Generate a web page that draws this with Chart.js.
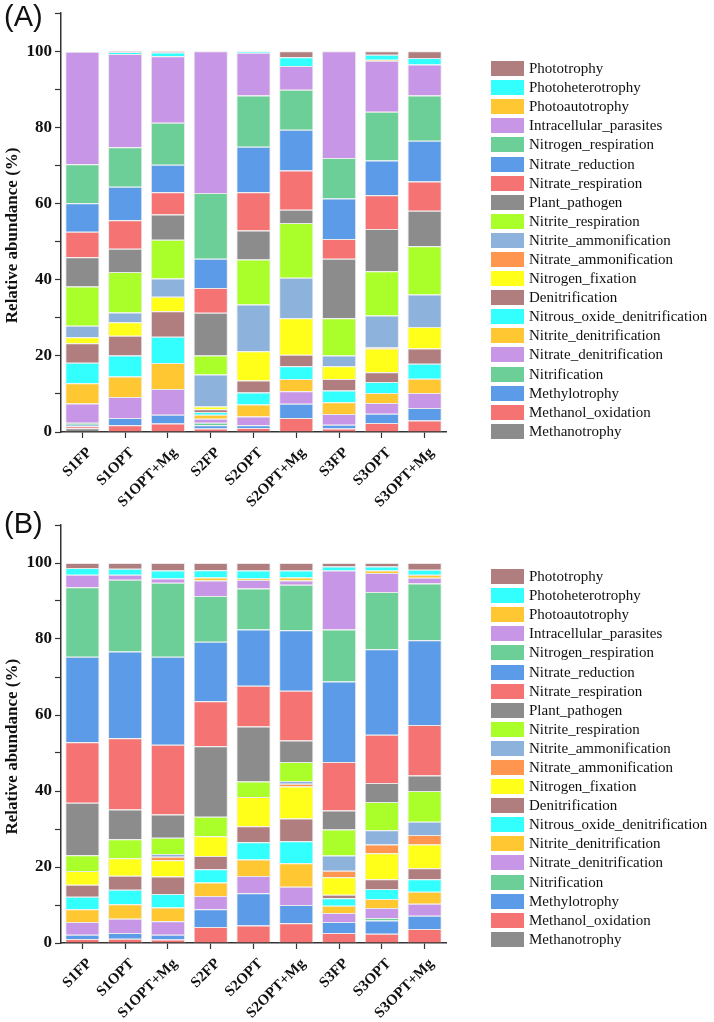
<!DOCTYPE html>
<html>
<head>
<meta charset="utf-8">
<script src="https://cdn.jsdelivr.net/npm/chart.js@4.4.1/dist/chart.umd.min.js"></script>
<style>
  html, body { margin: 0; padding: 0; background: #fff; }
  #page { position: relative; width: 714px; height: 1022px; overflow: hidden; }
  .panel { position: absolute; left: 0; width: 714px; height: 511px; }
  .panel canvas { position: absolute; left: 0; top: 0; }
  .tag { position: absolute; left: 4px; font-family: "Liberation Sans", Arial, sans-serif; font-size: 29px; color: #111; }
  .legend { position: absolute; left: 491px; font-family: "Liberation Serif", "Times New Roman", serif; font-size: 15px; color: #111; }
  .legend .row { height: 19.1px; display: flex; align-items: center; white-space: nowrap; }
  .legend .box { display: inline-block; width: 33px; height: 15px; margin-right: 5px; }
</style>
</head>
<body>
<div id="page">
  <div class="panel" style="top:0">
    <canvas id="chartA" width="714" height="511"></canvas>
    <div class="tag" style="top:0px">(A)</div>
    <div class="legend" id="legendA" style="top:59px"></div>
  </div>
  <div class="panel" style="top:511px">
    <canvas id="chartB" width="714" height="511"></canvas>
    <div class="tag" style="top:-4px">(B)</div>
    <div class="legend" id="legendB" style="top:56px"></div>
  </div>
</div>
<script>
// samples on the x axis
const samples = ["S1FP", "S1OPT", "S1OPT+Mg", "S2FP", "S2OPT", "S2OPT+Mg", "S3FP", "S3OPT", "S3OPT+Mg"];

// functional groups, stacked from the bottom up
const functions = [
  "Methanotrophy", "Methanol_oxidation", "Methylotrophy", "Nitrification",
  "Nitrate_denitrification", "Nitrite_denitrification", "Nitrous_oxide_denitrification",
  "Denitrification", "Nitrogen_fixation", "Nitrate_ammonification", "Nitrite_ammonification",
  "Nitrite_respiration", "Plant_pathogen", "Nitrate_respiration", "Nitrate_reduction",
  "Nitrogen_respiration", "Intracellular_parasites", "Photoautotrophy", "Photoheterotrophy", "Phototrophy"
];

const colors = [
  "#8c8c8c", "#f57373", "#5b9be8", "#6dcf98",
  "#c796e6", "#ffc833", "#33ffff",
  "#b07e7e", "#ffff1a", "#ff9650", "#8db3dc",
  "#aaff2b", "#8c8c8c", "#f57373", "#5b9be8",
  "#6dcf98", "#c796e6", "#ffc833", "#33ffff", "#b07e7e"
];

// relative abundance (%), one row per sample, same order as functions
const panelA = [
  [1.0, 0.5, 0.4, 0.5, 5.1, 5.3, 5.4, 5.1, 1.6, 0, 3.0, 10.3, 7.7, 6.7, 7.5, 10.2, 29.6, 0, 0, 0],
  [0, 1.75, 1.95, 0, 5.5, 5.4, 5.5, 5.2, 3.5, 0, 2.6, 10.6, 6.1, 7.5, 8.8, 10.4, 24.5, 0, 0.5, 0.2],
  [0, 2.2, 2.35, 0, 6.75, 6.8, 6.9, 6.7, 3.8, 0, 4.8, 10.2, 6.6, 5.9, 7.2, 11.0, 17.5, 0, 1.0, 0.3],
  [0, 0.9, 0.85, 0.7, 1.05, 1.05, 0.7, 0.75, 0.7, 0, 8.4, 5.0, 11.2, 6.5, 7.7, 17.3, 37.2, 0, 0, 0],
  [0, 1.05, 0.7, 0, 2.35, 3.1, 3.2, 3.1, 7.7, 0, 12.3, 11.8, 7.6, 10.1, 11.9, 13.5, 11.2, 0, 0.4, 0],
  [0, 3.7, 3.7, 0, 3.3, 3.2, 3.35, 3.05, 9.6, 0, 10.6, 14.4, 3.5, 10.3, 10.7, 10.5, 6.2, 0, 2.3, 1.6],
  [0, 0.9, 1.0, 0, 2.8, 3.1, 3.1, 3.0, 3.35, 0, 2.85, 9.8, 15.6, 5.2, 10.6, 10.7, 28.0, 0, 0, 0],
  [0, 2.35, 2.45, 0, 2.8, 2.65, 2.85, 2.6, 6.2, 0.3, 8.4, 11.6, 11.1, 8.9, 9.1, 12.8, 13.4, 0.3, 1.3, 0.9],
  [0, 3.0, 3.3, 0, 3.95, 3.75, 3.95, 3.95, 5.7, 0, 8.5, 12.7, 9.3, 7.7, 10.7, 11.9, 8.1, 0, 1.75, 1.75]
];

const panelB = [
  [0, 1.05, 1.15, 0, 3.3, 3.4, 3.3, 3.1, 3.65, 0, 0, 4.15, 13.8, 15.9, 22.5, 18.3, 3.3, 0, 1.8, 1.3],
  [0, 1.15, 1.45, 0, 3.8, 3.8, 3.8, 3.7, 4.6, 0, 0, 5.0, 7.8, 18.8, 22.8, 18.9, 1.3, 0, 1.6, 1.5],
  [0, 0.9, 1.3, 0, 3.5, 3.65, 3.55, 4.6, 4.3, 0.9, 0.7, 4.3, 6.1, 18.4, 23.1, 19.5, 1.1, 0, 2.1, 2.0],
  [0, 4.2, 4.7, 0, 3.5, 3.5, 3.5, 3.5, 5.2, 0, 0, 5.1, 18.6, 11.8, 15.7, 12.0, 4.1, 0.8, 1.9, 1.9],
  [0, 4.6, 8.5, 0, 4.5, 4.4, 4.5, 4.2, 7.7, 0, 0, 4.1, 14.5, 10.7, 14.8, 10.8, 2.2, 0.4, 2.1, 2.0],
  [0, 5.2, 4.8, 0, 4.8, 6.2, 5.8, 5.95, 8.45, 0.7, 0.7, 5.0, 5.7, 13.1, 15.9, 12.0, 1.1, 0.8, 1.8, 2.0],
  [0, 2.6, 2.9, 0, 2.4, 1.9, 2.0, 0.9, 4.6, 1.7, 4.0, 6.9, 5.0, 12.7, 21.2, 13.7, 15.5, 0, 1.1, 0.9],
  [0, 2.45, 3.45, 0.65, 2.65, 2.4, 2.6, 2.6, 6.8, 2.3, 3.8, 7.4, 5.0, 12.7, 22.5, 15.1, 5.0, 0.6, 1.1, 0.9],
  [0, 3.7, 3.5, 0, 3.1, 3.2, 3.3, 2.85, 6.25, 2.5, 3.5, 8.1, 4.1, 13.3, 22.25, 14.95, 1.5, 0.8, 1.35, 1.75]
];

const serif = "'Liberation Serif', 'Times New Roman', serif";
const axisColor = "#333";

function makeChart(id, rows, topPad) {
  const datasets = functions.map((name, k) => ({
    label: name,
    data: rows.map(r => r[k]),
    backgroundColor: colors[k],
    borderColor: "rgba(232,232,232,0.95)",
    borderWidth: 1,
    barPercentage: 0.8,
    categoryPercentage: 1
  }));

  return new Chart(document.getElementById(id), {
    type: "bar",
    data: { labels: samples, datasets: datasets },
    options: {
      responsive: false,
      animation: false,
      layout: { padding: { top: topPad, right: 268, left: 0, bottom: 0 } },
      plugins: { legend: { display: false }, tooltip: { enabled: false } },
      scales: {
        x: {
          stacked: true,
          grid: { drawOnChartArea: false, offset: false, tickLength: 6, tickColor: axisColor, tickWidth: 1.2 },
          border: { color: axisColor, width: 1.5 },
          ticks: {
            autoSkip: false, minRotation: 45, maxRotation: 45, padding: 6, labelOffset: 7,
            color: "#111", font: { family: serif, size: 15, weight: "bold" }
          },
          afterFit: s => { s.height = 79; }
        },
        y: {
          stacked: true,
          min: 0,
          max: 110,
          grid: { drawOnChartArea: false, tickLength: 6, tickColor: axisColor, tickWidth: 1.2 },
          border: { color: axisColor, width: 1.5 },
          ticks: {
            stepSize: 10, padding: 3, color: "#111",
            font: { family: serif, size: 17, weight: "bold" },
            callback: v => (v % 20 === 0 && v <= 100) ? v : ""
          },
          title: {
            display: true,
            text: "Relative abundance (%)      ",
            color: "#111",
            font: { family: serif, size: 17, weight: "bold" },
            padding: { top: 2, bottom: 0 }
          },
          afterFit: s => { s.width = 61; }
        }
      }
    }
  });
}

function makeLegend(id) {
  const box = document.getElementById(id);
  for (let k = functions.length - 1; k >= 0; k--) {
    const row = document.createElement("div");
    row.className = "row";
    const sw = document.createElement("span");
    sw.className = "box";
    sw.style.background = colors[k];
    const txt = document.createElement("span");
    txt.textContent = functions[k];
    row.appendChild(sw);
    row.appendChild(txt);
    box.appendChild(row);
  }
}

makeChart("chartA", panelA, 10);
makeChart("chartB", panelB, 14);
makeLegend("legendA");
makeLegend("legendB");
</script>
</body>
</html>
